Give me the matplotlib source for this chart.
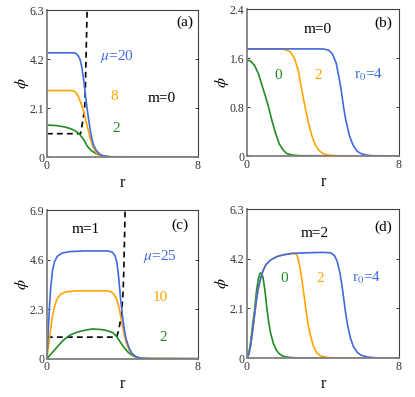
import matplotlib
matplotlib.use("Agg")
import matplotlib.pyplot as plt

plt.rcParams['font.family'] = ['Liberation Serif', 'DejaVu Serif']
plt.rcParams['mathtext.fontset'] = 'stix'

BLUE = '#4169E1'
ORANGE = '#FFA500'
GREEN = '#228B22'

# ---------------- Panel (a): m=0, mu = 20, 8, 2 ----------------
a_blue_r = [0, 1.4, 1.55, 1.65, 1.75, 1.85, 1.95, 2.05, 2.15, 2.25, 2.35, 2.45, 2.6, 2.8, 3.0, 3.3, 3.6, 8]
a_blue_p = [4.47, 4.47, 4.44, 4.35, 4.2, 3.85, 3.3, 2.6, 1.95, 1.4, 0.9, 0.55, 0.3, 0.12, 0.05, 0.01, 0, 0]
a_orange_r = [0, 1.3, 1.45, 1.55, 1.65, 1.75, 1.85, 1.95, 2.05, 2.15, 2.25, 2.35, 2.45, 2.6, 2.8, 3.0, 3.3, 8]
a_orange_p = [2.85, 2.85, 2.82, 2.75, 2.62, 2.42, 2.2, 1.95, 1.62, 1.28, 0.95, 0.65, 0.42, 0.2, 0.08, 0.03, 0.01, 0]
a_green_r = [0, 0.5, 1.0, 1.3, 1.5, 1.7, 1.9, 2.0, 2.1, 2.2, 2.35, 2.5, 2.6, 2.8, 3.0, 3.3, 8]
a_green_p = [1.37, 1.35, 1.28, 1.2, 1.12, 1.01, 0.8, 0.68, 0.52, 0.4, 0.28, 0.2, 0.15, 0.08, 0.04, 0.01, 0]
a_dash_r = [0, 1.78, 1.85, 1.93, 2.0, 2.04, 2.07, 2.1, 2.13]
a_dash_p = [1.0, 1.0, 1.3, 1.7, 2.1, 3.0, 4.2, 5.2, 6.3]

# ---------------- Panel (b): m=0, r0 = 0, 2, 4 ----------------
b_blue_r = [0, 4.0, 4.3, 4.5, 4.7, 4.9, 5.0, 5.1, 5.2, 5.4, 5.6, 5.8, 6.0, 6.3, 6.6, 8]
b_blue_p = [1.75, 1.75, 1.73, 1.67, 1.52, 1.2, 1.0, 0.78, 0.6, 0.33, 0.17, 0.08, 0.04, 0.015, 0.005, 0]
b_orange_r = [0, 1.8, 2.1, 2.3, 2.5, 2.7, 2.85, 3.0, 3.1, 3.2, 3.4, 3.6, 3.8, 4.0, 4.3, 4.7, 8]
b_orange_p = [1.75, 1.75, 1.73, 1.7, 1.6, 1.4, 1.15, 0.9, 0.75, 0.6, 0.35, 0.18, 0.09, 0.04, 0.015, 0.005, 0]
b_green_r = [0, 0.2, 0.4, 0.6, 0.8, 1.0, 1.14, 1.3, 1.5, 1.7, 1.9, 2.1, 2.4, 2.8, 8]
b_green_p = [1.57, 1.55, 1.48, 1.35, 1.15, 0.95, 0.8, 0.6, 0.38, 0.2, 0.1, 0.04, 0.015, 0.005, 0]

# ---------------- Panel (c): m=1, mu = 25, 10, 2 ----------------
c_blue_r = [0, 0.05, 0.1, 0.15, 0.2, 0.3, 0.4, 0.55, 0.8, 1.2, 2.0, 3.2, 3.45, 3.6, 3.7, 3.8, 3.9, 4.0, 4.1, 4.2, 4.35, 4.5, 4.7, 4.9, 5.2, 5.6, 8]
c_blue_p = [0, 0.9, 1.8, 2.6, 3.3, 4.1, 4.5, 4.75, 4.9, 4.97, 5.0, 5.0, 4.95, 4.8, 4.5, 3.8, 2.8, 2.0, 1.35, 0.9, 0.5, 0.25, 0.1, 0.04, 0.01, 0, 0]
c_orange_r = [0, 0.1, 0.2, 0.3, 0.4, 0.55, 0.75, 1.0, 1.5, 3.2, 3.4, 3.55, 3.7, 3.8, 3.9, 4.0, 4.1, 4.2, 4.35, 4.5, 4.7, 4.9, 5.2, 8]
c_orange_p = [0, 0.7, 1.4, 2.0, 2.4, 2.8, 3.0, 3.1, 3.15, 3.15, 3.1, 3.0, 2.75, 2.45, 2.0, 1.55, 1.1, 0.75, 0.42, 0.22, 0.09, 0.03, 0.01, 0]
c_green_r = [0, 0.3, 0.6, 0.9, 1.2, 1.5, 1.9, 2.4, 2.9, 3.2, 3.5, 3.7, 3.85, 4.0, 4.15, 4.3, 4.5, 4.7, 4.9, 5.2, 8]
c_green_p = [0, 0.3, 0.6, 0.88, 1.08, 1.2, 1.3, 1.38, 1.35, 1.3, 1.2, 1.02, 0.82, 0.62, 0.45, 0.3, 0.16, 0.08, 0.03, 0.01, 0]
c_dash_r = [0, 3.69, 3.8, 3.9, 3.97, 4.03, 4.07, 4.11, 4.14]
c_dash_p = [1.0, 1.0, 1.3, 1.8, 2.3, 3.0, 4.0, 5.5, 6.9]

# ---------------- Panel (d): m=2, r0 = 0, 2, 4 ----------------
d_blue_r = [0, 0.1, 0.2, 0.3, 0.4, 0.5, 0.6, 0.7, 0.85, 1.0, 1.25, 1.6, 2.0, 2.5, 3.0, 4.0, 4.4, 4.6, 4.75, 4.9, 5.0, 5.1, 5.2, 5.3, 5.45, 5.6, 5.8, 6.0, 6.3, 6.7, 7.2, 8]
d_blue_p = [0, 0.15, 0.55, 1.15, 1.8, 2.45, 2.95, 3.3, 3.7, 3.95, 4.15, 4.3, 4.38, 4.43, 4.45, 4.47, 4.45, 4.35, 4.1, 3.6, 3.1, 2.5, 1.9, 1.4, 0.85, 0.5, 0.25, 0.12, 0.05, 0.015, 0, 0]
d_orange_r = [0, 0.1, 0.2, 0.3, 0.4, 0.5, 0.6, 0.7, 0.85, 1.0, 1.25, 1.6, 2.0, 2.44, 2.6, 2.7, 2.8, 2.9, 3.0, 3.1, 3.2, 3.3, 3.5, 3.7, 3.9, 4.2, 4.6, 8]
d_orange_p = [0, 0.15, 0.55, 1.15, 1.8, 2.45, 2.95, 3.3, 3.7, 3.95, 4.15, 4.3, 4.38, 4.45, 4.4, 4.2, 3.8, 3.3, 2.7, 2.1, 1.55, 1.1, 0.5, 0.2, 0.08, 0.025, 0.008, 0]
d_green_r = [0, 0.1, 0.2, 0.3, 0.4, 0.5, 0.6, 0.7, 0.78, 0.85, 0.95, 1.05, 1.15, 1.25, 1.4, 1.55, 1.7, 1.9, 2.1, 2.4, 2.8, 8]
d_green_p = [0, 0.2, 0.7, 1.4, 2.0, 2.8, 3.35, 3.6, 3.58, 3.4, 2.85, 2.1, 1.5, 1.05, 0.6, 0.33, 0.18, 0.08, 0.04, 0.015, 0.005, 0]

ylims = [6.3, 2.4, 6.9, 6.3]
yticks = [[0, 2.1, 4.2, 6.3], [0, 0.8, 1.6, 2.4], [0, 2.3, 4.6, 6.9], [0, 2.1, 4.2, 6.3]]
yticklabels = [['0', '2.1', '4.2', '6.3'], ['0', '0.8', '1.6', '2.4'],
               ['0', '2.3', '4.6', '6.9'], ['0', '2.1', '4.2', '6.3']]

fig = plt.figure(figsize=(4.15, 3.97), dpi=100)
positions = [
    [0.113, 0.6045, 0.364, 0.370],
    [0.595, 0.607, 0.366, 0.370],
    [0.113, 0.0965, 0.364, 0.3745],
    [0.595, 0.0982, 0.366, 0.375],
]
axes = [fig.add_axes(p) for p in positions]

lw = 1.2
ax = axes[0]
ax.plot(a_dash_r, a_dash_p, color='black', ls=(0, (3.5, 2.5)), lw=1.2)
ax.plot(a_green_r, a_green_p, color=GREEN, lw=lw)
ax.plot(a_orange_r, a_orange_p, color=ORANGE, lw=lw)
ax.plot(a_blue_r, a_blue_p, color=BLUE, lw=lw)

ax = axes[1]
ax.plot(b_green_r, b_green_p, color=GREEN, lw=lw)
ax.plot(b_orange_r, b_orange_p, color=ORANGE, lw=lw)
ax.plot(b_blue_r, b_blue_p, color=BLUE, lw=lw)

ax = axes[2]
ax.plot(c_dash_r, c_dash_p, color='black', ls=(0, (3.5, 2.5)), lw=1.2)
ax.plot(c_green_r, c_green_p, color=GREEN, lw=lw)
ax.plot(c_orange_r, c_orange_p, color=ORANGE, lw=lw)
ax.plot(c_blue_r, c_blue_p, color=BLUE, lw=lw)

ax = axes[3]
ax.plot(d_green_r, d_green_p, color=GREEN, lw=lw)
ax.plot(d_orange_r, d_orange_p, color=ORANGE, lw=lw)
ax.plot(d_blue_r, d_blue_p, color=BLUE, lw=lw)

for i, ax in enumerate(axes):
    ax.set_xlim(0, 8)
    ax.set_ylim(0, ylims[i])
    ax.set_xticks([0, 8])
    ax.set_xticklabels(['0', '8'])
    ax.set_yticks(yticks[i])
    ax.set_yticklabels(yticklabels[i])
    ax.tick_params(direction='in', length=2.5, width=0.7, labelsize=8.5,
                   labelcolor='#333333', color='#333333', right=True, top=False, pad=2)
    for s in ['left', 'bottom']:
        ax.spines[s].set_color('#808080')
        ax.spines[s].set_linewidth(1.3)
    for s in ['top', 'right']:
        ax.spines[s].set_color('#404040')
        ax.spines[s].set_linewidth(0.8)
    ax.set_xlabel('r', fontsize=11.5, labelpad=2)
    ax.set_ylabel(r'$\phi$', fontsize=11.5, labelpad=-1)

fs = 11
# (a)
ax = axes[0]
ax.text(7.3, 5.76, '(a)', fontsize=fs, ha='center', va='center')
ax.text(3.69, 4.3, r'$\mu$=20', fontsize=fs, color=BLUE, ha='center', va='center')
ax.text(3.56, 2.59, '8', fontsize=fs, color=ORANGE, ha='center', va='center')
ax.text(3.69, 1.23, '2', fontsize=fs, color=GREEN, ha='center', va='center')
ax.text(6.1, 2.5, 'm=0', fontsize=fs, ha='center', va='center')
# (b)
ax = axes[1]
ax.text(7.19, 2.17, '(b)', fontsize=fs, ha='center', va='center')
ax.text(3.74, 2.07, 'm=0', fontsize=fs, ha='center', va='center')
ax.text(1.66, 1.32, '0', fontsize=fs, color=GREEN, ha='center', va='center')
ax.text(3.74, 1.32, '2', fontsize=fs, color=ORANGE, ha='center', va='center')
ax.text(6.4, 1.32, r'r$_0$=4', fontsize=fs, color=BLUE, ha='center', va='center')
# (c)
ax = axes[2]
ax.text(7.04, 6.2, '(c)', fontsize=fs, ha='center', va='center')
ax.text(2.06, 6.0, 'm=1', fontsize=fs, ha='center', va='center')
ax.text(5.98, 4.73, r'$\mu$=25', fontsize=fs, color=BLUE, ha='center', va='center')
ax.text(5.98, 2.83, '10', fontsize=fs, color=ORANGE, ha='center', va='center')
ax.text(6.15, 0.97, '2', fontsize=fs, color=GREEN, ha='center', va='center')
# (d)
ax = axes[3]
ax.text(7.2, 5.53, '(d)', fontsize=fs, ha='center', va='center')
ax.text(3.58, 5.27, 'm=2', fontsize=fs, ha='center', va='center')
ax.text(1.95, 3.37, '0', fontsize=fs, color=GREEN, ha='center', va='center')
ax.text(3.88, 3.37, '2', fontsize=fs, color=ORANGE, ha='center', va='center')
ax.text(6.33, 3.37, r'r$_0$=4', fontsize=fs, color=BLUE, ha='center', va='center')

fig.savefig('out.png', dpi=100)
